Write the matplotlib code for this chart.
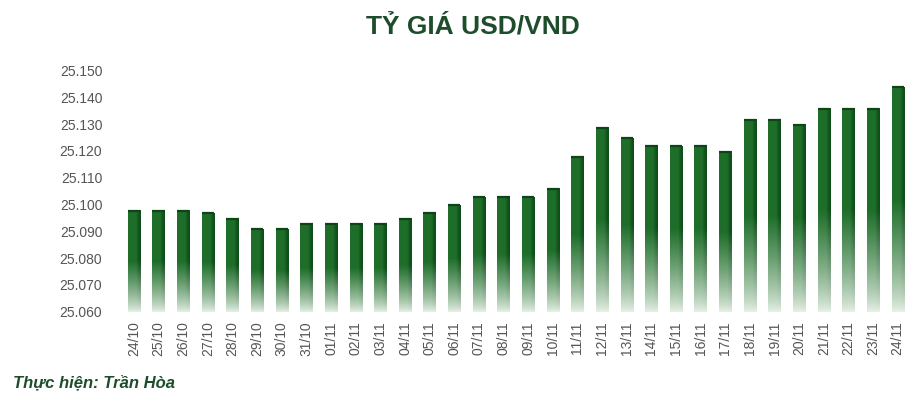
import numpy as np
import matplotlib
matplotlib.use("Agg")
import matplotlib.pyplot as plt
from matplotlib.colors import to_rgb
from matplotlib.ticker import FuncFormatter

dates = ["24/10", "25/10", "26/10", "27/10", "28/10", "29/10", "30/10", "31/10",
         "01/11", "02/11", "03/11", "04/11", "05/11", "06/11", "07/11", "08/11",
         "09/11", "10/11", "11/11", "12/11", "13/11", "14/11", "15/11", "16/11",
         "17/11", "18/11", "19/11", "20/11", "21/11", "22/11", "23/11", "24/11"]
rates = [25098, 25098, 25098, 25097, 25095, 25091, 25091, 25093,
         25093, 25093, 25093, 25095, 25097, 25100, 25103, 25103,
         25103, 25106, 25118, 25129, 25125, 25122, 25122, 25122,
         25120, 25132, 25132, 25130, 25136, 25136, 25136, 25144]
y_ticks = [25060, 25070, 25080, 25090, 25100, 25110, 25120, 25130, 25140, 25150]

plt.rcParams['font.family'] = ['Liberation Sans', 'DejaVu Sans']

dark_green = "#1e4d2b"
face = np.array(to_rgb("#1e6e2a"))
side = np.array(to_rgb("#0f501b"))
light = np.array(to_rgb("#e6f0e6"))


def bar_image(n=120):
    # solid colour in the upper half, fading to pale green at the bottom
    f = np.linspace(0, 1, n)[:, None]
    t = np.clip(f / 0.5, 0, 1) ** 0.8
    img = np.zeros((n, 4, 3))
    img[:, :3, :] = (light + (face - light) * t)[:, None, :]
    img[:, 3, :] = light + (side - light) * t
    return img


fig = plt.figure(figsize=(9.22, 3.97), dpi=100)
ax = fig.add_axes([0.132, 0.215, 0.855, 0.607])

x = np.arange(len(dates))
base = y_ticks[0]
bars = ax.bar(x, np.array(rates) - base, bottom=base, width=0.5,
              color="none", edgecolor="none")
img = bar_image()
for rect in bars:
    x0 = rect.get_x()
    w = rect.get_width()
    top = rect.get_y() + rect.get_height()
    im = ax.imshow(img, extent=[x0, x0 + w, rect.get_y(), top], origin="lower",
                   aspect="auto", interpolation="bilinear", zorder=2)
    im.set_clip_path(rect)
    # dark cap on top
    ax.plot([x0, x0 + w], [top - 0.25, top - 0.25], color="#0d4418", lw=1.6,
            solid_capstyle="butt", zorder=3)

ax.set_xlim(-0.5, len(dates) - 0.5)
ax.set_ylim(y_ticks[0], y_ticks[-1])
ax.set_yticks(y_ticks)
ax.yaxis.set_major_formatter(FuncFormatter(lambda v, p: f"{int(round(v)):,}".replace(",", ".")))
ax.set_xticks(x)
ax.set_xticklabels(dates, rotation=90)
ax.tick_params(axis="y", length=0, pad=14, labelsize=10, labelcolor="#555555")
ax.tick_params(axis="x", length=0, pad=7, labelsize=10, labelcolor="#555555")
for s in ax.spines.values():
    s.set_visible(False)

fig.text(0.513, 0.933, "TỶ GIÁ USD/VND", ha="center", va="center",
         fontsize=19, fontweight="bold", color=dark_green)
fig.text(0.014, 0.035, "Thực hiện: Trần Hòa", ha="left", va="center",
         fontsize=12, fontweight="bold", fontstyle="italic", color=dark_green)

fig.savefig("out.png", dpi=100)
